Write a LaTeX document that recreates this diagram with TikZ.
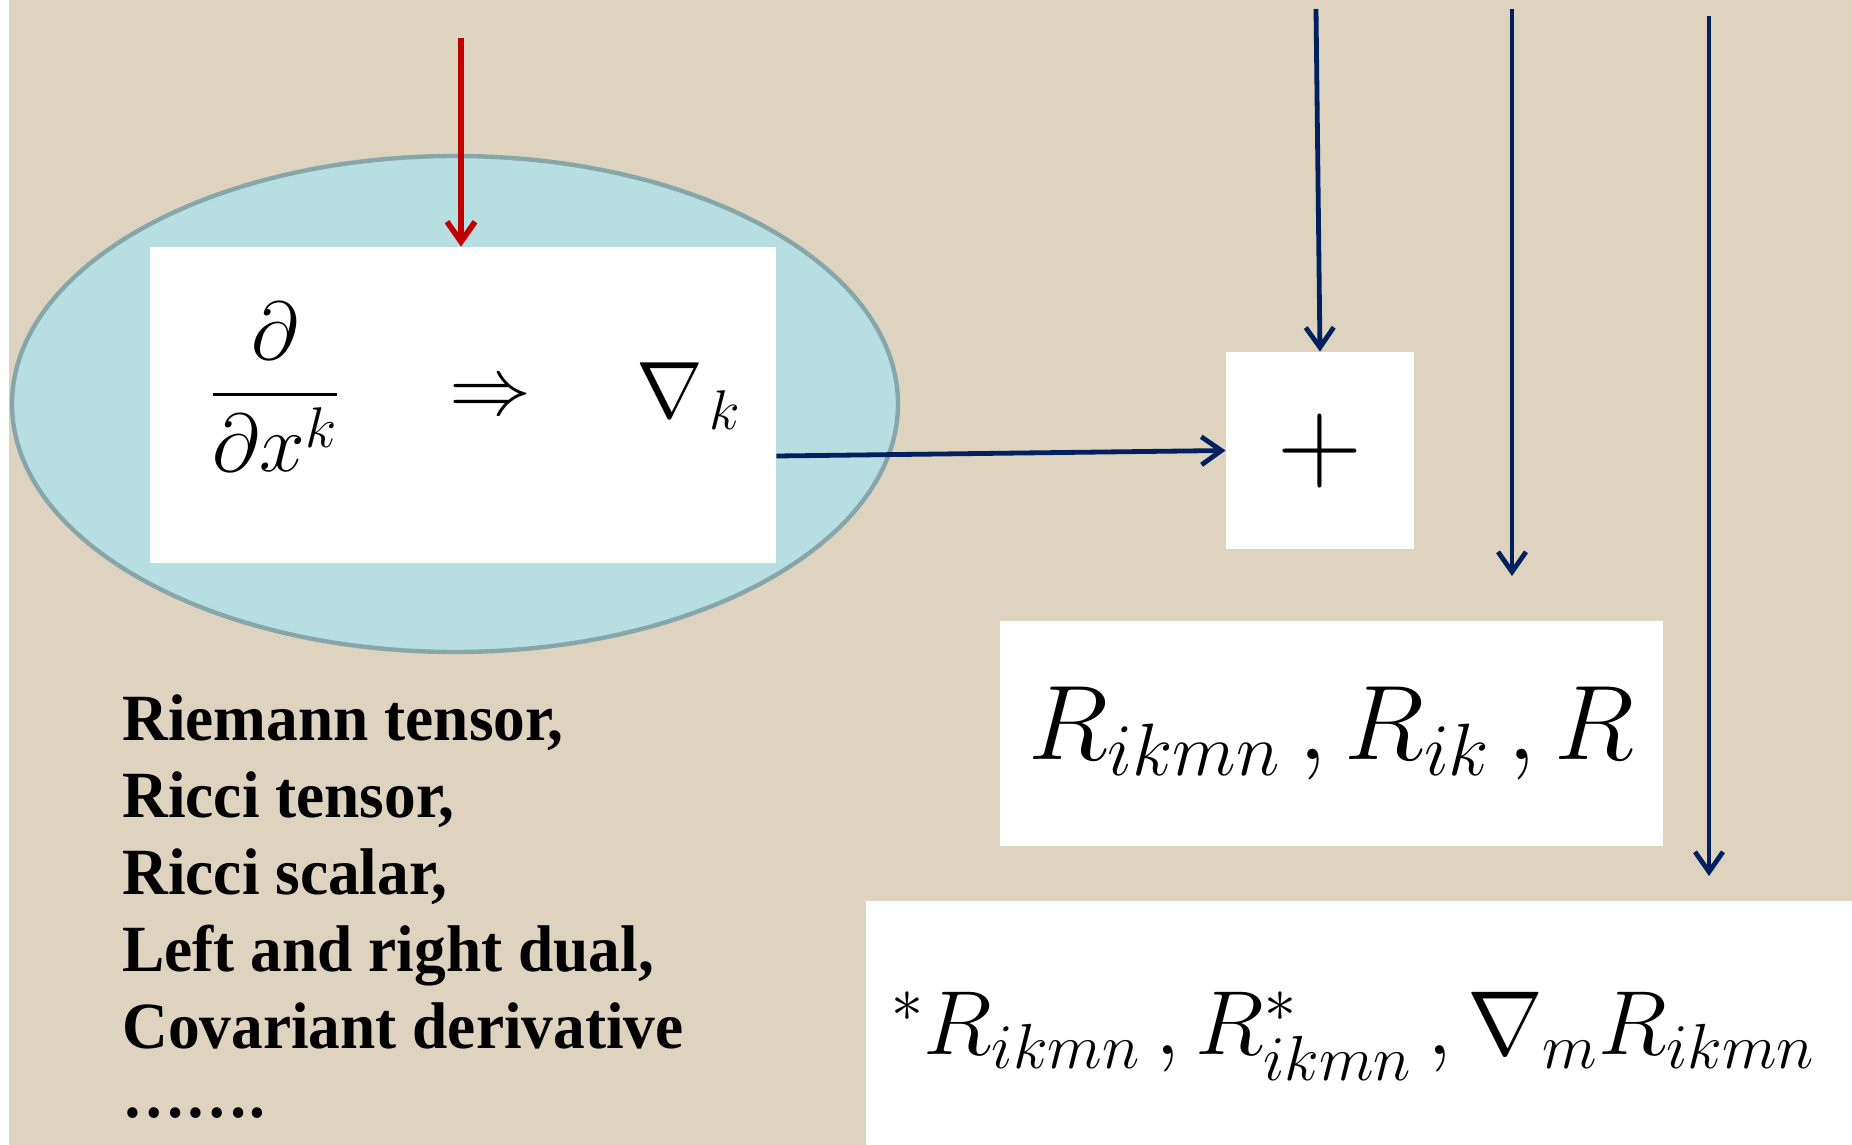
\RequirePackage{fix-cm}
\documentclass[tikz,border=0pt]{standalone}
\usepackage{fontspec}
\usepackage{amsmath, amssymb}
\usetikzlibrary{positioning, arrows.meta, shapes.geometric}
\newfontfamily\listfont[FakeStretch=0.96]{Liberation Serif}

\definecolor{linen}{HTML}{DDD3BF}
\definecolor{lagoon}{HTML}{B7DEE1}
\definecolor{lagoonrim}{HTML}{87A6AA}
\definecolor{redarrow}{HTML}{C00000}
\definecolor{navy}{HTML}{002060}

\tikzset{
  whitebox/.style={rectangle,fill=white,inner sep=0pt},
  listline/.style={anchor=base west,inner sep=0pt,
    font=\listfont\bfseries\fontsize{33}{38}\selectfont},
  navyarrow/.style={->,draw=navy,line width=2.4pt},
}

\begin{document}
\begin{tikzpicture}[x=0.5pt,y=-0.5pt,>={Straight Barb[length=10pt,width=14pt]}]
      \useasboundingbox (0,0) rectangle (1852,1145);
      \fill[white] (0,0) rectangle (1852,1145);
      \fill[linen] (9,0) rectangle (1852,1145);

      \node[ellipse,fill=lagoon,draw=lagoonrim,line width=2.2pt,inner sep=0pt,
        minimum width=443pt,minimum height=248pt] (lens) at (455,404) {};
      \node[whitebox,minimum width=313pt,minimum height=158pt] (defbox) at (463,405) {};
      \node[font=\fontsize{41}{44}\selectfont] (partial) at (275,387) {$\displaystyle\frac{\partial}{\partial x^k}$};
      \node[font=\fontsize{41}{44}\selectfont] (implies) at (490,399) {$\Rightarrow$};
      \node[font=\fontsize{40}{44}\selectfont,anchor=base west,inner sep=0pt] (nablak) at (636,417) {$\nabla_{\mkern2mu k}$};

      \node[whitebox,minimum width=94pt,minimum height=98.5pt,
        font=\fontsize{59}{62}\selectfont] (plus) at (1320,450.5) {$+$};
      \node[whitebox,minimum width=331.5pt,minimum height=112.5pt,
        font=\fontsize{53}{56}\selectfont] (curv) at (1331.5,733.5) {$R_{ikmn}\, , R_{ik}\, , R$};
      \node[whitebox,minimum width=493pt,minimum height=122pt] (dualbox) at (1359,1023) {};
      \node[font=\fontsize{45.5}{50}\selectfont] (dual) at (1353,1036) {$^{*}R_{ikmn}\, , R^{*}_{ikmn}\, , \nabla_m R_{ikmn}$};

      % list of quantities
      \foreach \item [count=\i] in {{Riemann tensor,},{Ricci tensor,},{Ricci scalar,},
          {Left and right dual,},{Covariant derivative}}
        \node[listline] (item\i) at (122,663+77*\i) {\item};
      \node[listline] (dots) at (122,1117) {…….};

      % arrows
      \coordinate (redtop) at (461,38);
      \draw[->,redarrow,line width=2.8pt] (redtop) -- (redtop |- defbox.north);
      \draw[navyarrow] ([yshift=-25.5pt]defbox.east) -- (plus.west);
      \coordinate (plustop) at (1316,9);
      \draw[navyarrow] (plustop) -- (plus.north);
      \coordinate (curvtop) at (1512,9);
      \coordinate (curvend) at (1512,576);
      \draw[navyarrow] (curvtop) -- (curvend);
      \coordinate (dualtop) at (1709,16);
      \coordinate (dualend) at (1709,876);
      \draw[navyarrow] (dualtop) -- (dualend);
    \end{tikzpicture}
\end{document}
